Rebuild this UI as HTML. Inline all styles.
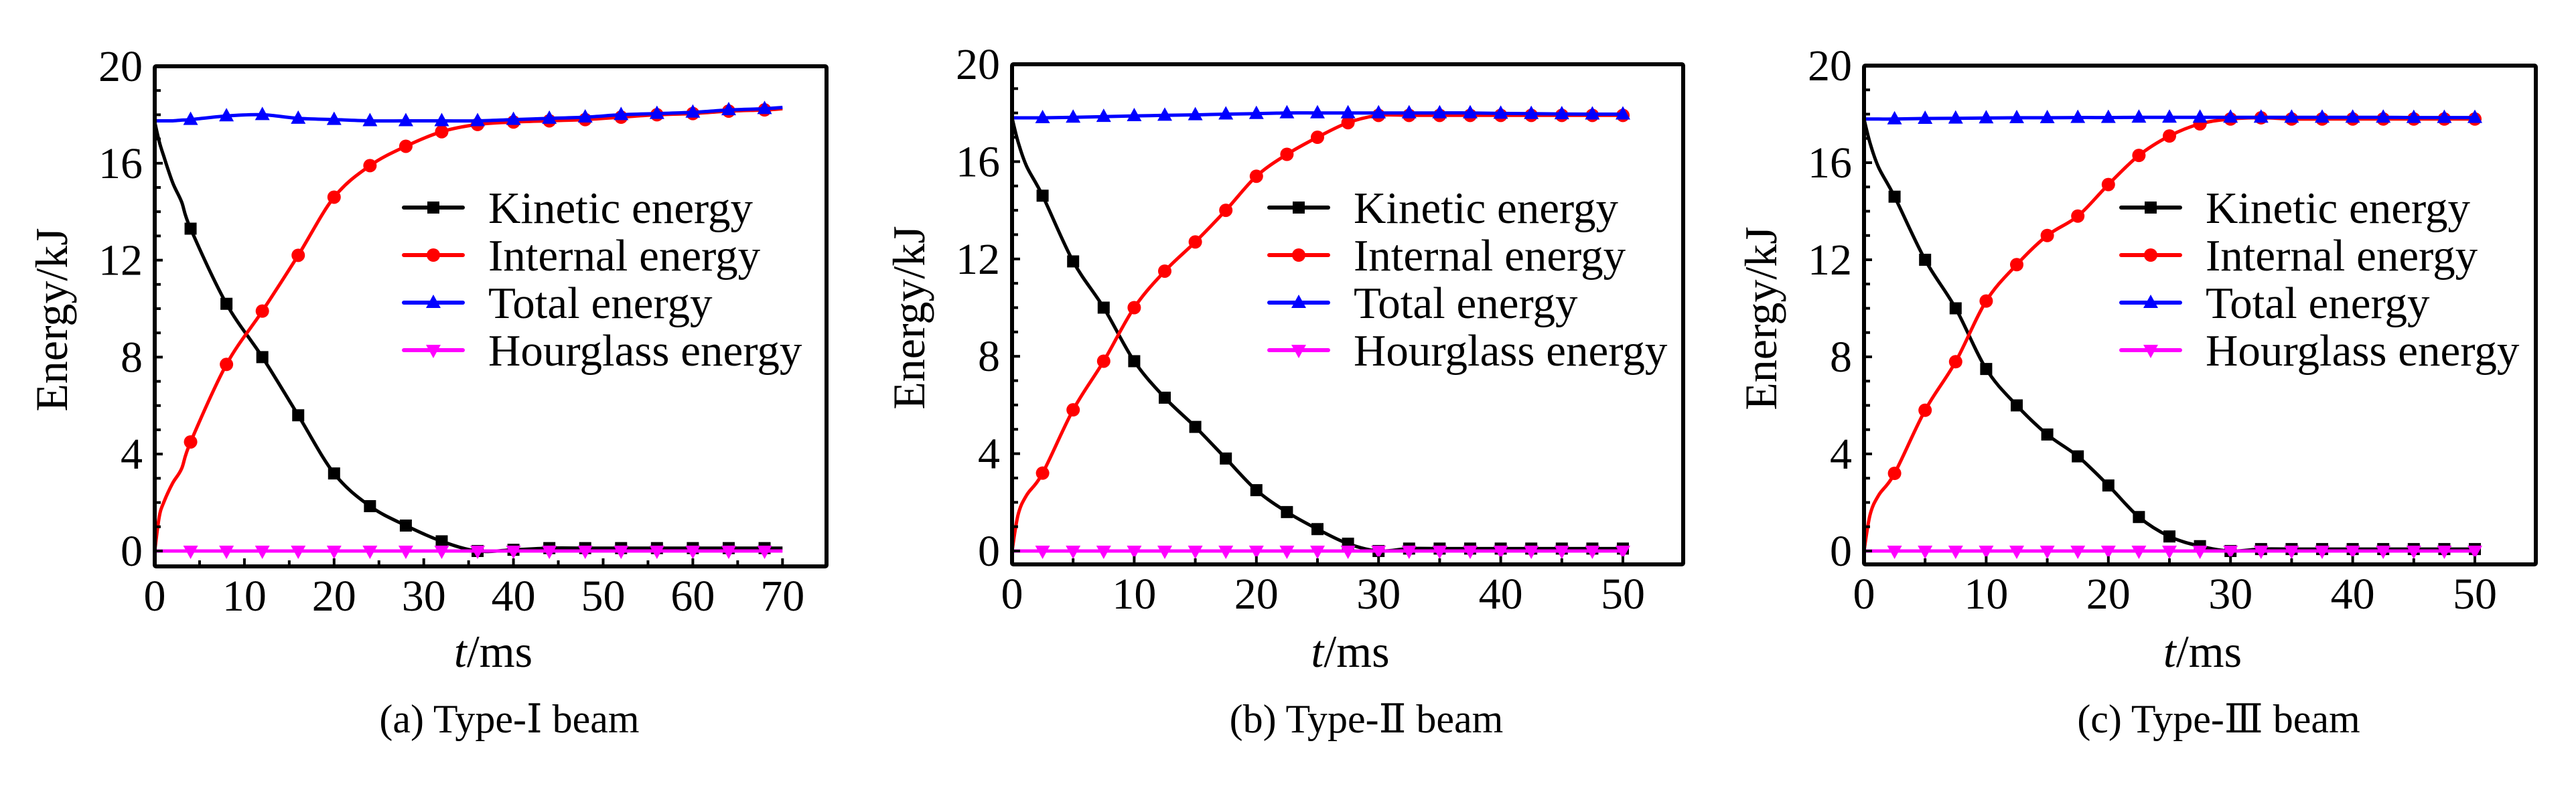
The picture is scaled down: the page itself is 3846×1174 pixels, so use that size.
<!DOCTYPE html>
<html><head><meta charset="utf-8"><style>
html,body{margin:0;padding:0;background:#fff;}
svg, svg text, svg tspan{font-family:"Liberation Serif","DejaVu Serif","Noto Serif CJK SC",serif;}
</style></head><body>
<svg id="fig" width="3846" height="1169" viewBox="0 0 3846 1169" xmlns="http://www.w3.org/2000/svg" font-family="Liberation Serif, DejaVu Serif, Noto Serif CJK SC, serif"></svg>
<script>
// Panel (a) data
const tA = [0,0.5,1,2,3,4,8,12,16,20,24,28,32,36,40,44,48,52,56,60,64,68,70];
const kinA = [17.7,16.9,16.3,15.2,14.4,13.3,10.2,8.0,5.6,3.2,1.85,1.05,0.4,0.0,0.05,0.12,0.12,0.12,0.12,0.12,0.12,0.12,0.12];
const intA = [0,1.4,2.0,2.8,3.4,4.5,7.7,9.9,12.2,14.6,15.9,16.7,17.3,17.6,17.7,17.75,17.8,17.9,18.0,18.05,18.15,18.2,18.25];
const totA = [17.75,17.75,17.75,17.75,17.78,17.8,17.95,18.0,17.85,17.8,17.75,17.75,17.75,17.75,17.8,17.85,17.9,18.0,18.05,18.1,18.2,18.25,18.3];
const hgA = [0,0,0,0,0,0,0,0,0,0,0,0,0,0,0,0,0,0,0,0,0,0,0];
// Panel (b) data
const tB = [0,0.5,1.2,2.5,5,7.5,10,12.5,15,17.5,20,22.5,25,27.5,30,32.5,35,37.5,40,42.5,45,47.5,50];
const kinB = [17.8,16.8,15.8,14.6,11.9,10.0,7.8,6.3,5.1,3.8,2.5,1.6,0.9,0.3,0.0,0.1,0.1,0.1,0.1,0.1,0.1,0.1,0.1];
const intB = [0,1.5,2.3,3.2,5.8,7.8,10.0,11.5,12.7,14.0,15.4,16.3,17.0,17.6,17.9,17.9,17.9,17.9,17.9,17.9,17.9,17.9,17.9];
const totB = [17.8,17.8,17.8,17.8,17.82,17.85,17.88,17.9,17.92,17.95,17.97,18.0,18.0,18.0,18.0,18.0,18.0,18.0,17.98,17.97,17.96,17.95,17.95];
const hgB = [0,0,0,0,0,0,0,0,0,0,0,0,0,0,0,0,0,0,0,0,0,0,0];
// Panel (c) data
const tC = [0,0.5,1.2,2.5,5,7.5,10,12.5,15,17.5,20,22.5,25,27.5,30,32.5,35,37.5,40,42.5,45,47.5,50];
const kinC = [17.8,16.8,15.8,14.6,12.0,10.0,7.5,6.0,4.8,3.9,2.7,1.4,0.6,0.2,0.0,0.08,0.08,0.08,0.08,0.08,0.08,0.08,0.08];
const intC = [0,1.5,2.3,3.2,5.8,7.8,10.3,11.8,13.0,13.8,15.1,16.3,17.1,17.6,17.8,17.85,17.8,17.8,17.8,17.8,17.8,17.8,17.8];
const totC = [17.8,17.8,17.8,17.8,17.82,17.83,17.84,17.85,17.85,17.86,17.86,17.87,17.87,17.87,17.87,17.87,17.87,17.87,17.87,17.87,17.86,17.86,17.86];
const hgC = [0,0,0,0,0,0,0,0,0,0,0,0,0,0,0,0,0,0,0,0,0,0,0];

const yTicks = [0,4,8,12,16,20];
const xTicksA = [0,10,20,30,40,50,60,70];
const xTicksBC = [0,10,20,30,40,50];
const seriesNames = ["Kinetic energy","Internal energy","Total energy","Hourglass energy"];
const captions = ["(a) Type-Ⅰ beam","(b) Type-Ⅱ beam","(c) Type-Ⅲ beam"];

const NS = "http://www.w3.org/2000/svg";
const FONT = "Liberation Serif, DejaVu Serif, Noto Serif CJK SC, serif";
const svg = document.getElementById("fig");
function mk(tag, attrs, parent){
  const e = document.createElementNS(NS, tag);
  for (const k in attrs) e.setAttribute(k, attrs[k]);
  if (tag==="text") e.setAttribute("font-family", FONT);
  (parent||svg).appendChild(e);
  return e;
}
const colors = ["#000000","#ff0000","#0000ff","#ff00ff"];
const keys = ["kinetic","internal","total","hourglass"];

function smoothPath(pts){
  let d = "M"+pts[0][0].toFixed(1)+","+pts[0][1].toFixed(1);
  for (let i=0;i<pts.length-1;i++){
    const p0 = pts[Math.max(0,i-1)], p1 = pts[i], p2 = pts[i+1], p3 = pts[Math.min(pts.length-1,i+2)];
    const c1x = p1[0]+(p2[0]-p0[0])/6, c1y = p1[1]+(p2[1]-p0[1])/6;
    const c2x = p2[0]-(p3[0]-p1[0])/6, c2y = p2[1]-(p3[1]-p1[1])/6;
    d += " C"+c1x.toFixed(1)+","+c1y.toFixed(1)+" "+c2x.toFixed(1)+","+c2y.toFixed(1)+" "+p2[0].toFixed(1)+","+p2[1].toFixed(1);
  }
  return d;
}
function marker(g, k, x, y){
  let m;
  if (k===0) m = mk("rect",{x:x-9,y:y-9,width:18,height:18,fill:colors[0]},g);
  else if (k===1) m = mk("circle",{cx:x,cy:y,r:10,fill:colors[1]},g);
  else if (k===2) m = mk("polygon",{points:(x)+","+(y-12)+" "+(x-11)+","+(y+8)+" "+(x+11)+","+(y+8),fill:colors[2]},g);
  else m = mk("polygon",{points:(x)+","+(y+12)+" "+(x-11)+","+(y-8)+" "+(x+11)+","+(y-8),fill:colors[3]},g);
  return m;
}

function panel(id, cfg){
  const {x0, xMax, pxPer, right, y0, y20, bottom, t, series, xTicks, markStep, legOff, caption} = cfg;
  const top = y20;
  const X = v => x0 + v*pxPer;
  const Y = v => y0 - v*(y0-y20)/20;
  const g = mk("g",{});
  
  
  series.forEach((vals, k)=>{
    const sg = mk("g",{},g);
    
    
    const pts = t.map((tt,i)=>[X(tt),Y(vals[i])]);
    const p = mk("path",{d:smoothPath(pts),fill:"none",stroke:colors[k],"stroke-width":5,"stroke-linejoin":"round"},sg);
    
    
    t.forEach((tt,i)=>{
      const r = tt/markStep;
      if (tt>0 && Math.abs(r-Math.round(r))<1e-6){
        const m = marker(sg,k,X(tt),Y(vals[i]));
        
        
      }
    });
  });
  const fr = mk("rect",{x:x0,y:top,width:right-x0,height:bottom-top,fill:"none",stroke:"#000","stroke-width":6,rx:2},g);
  
  
  for (let v=0; v<=20; v++){
    const tk = mk("line",{x1:x0,x2:x0+(v%4===0?12:9),y1:Y(v),y2:Y(v),stroke:"#000","stroke-width":4},g);
    
    
  }
  yTicks.forEach(v=>{
    const tx = mk("text",{x:x0-18,y:Y(v)+22,"font-size":66,"text-anchor":"end",fill:"#000"},g);
    tx.textContent = v;
    
    
  });
  for (let v=5; v<=xMax; v+=5){
    const tk = mk("line",{x1:X(v),x2:X(v),y1:bottom,y2:bottom-(v%10===0?12:9),stroke:"#000","stroke-width":4},g);
    
    
  }
  xTicks.forEach(v=>{
    const tx = mk("text",{x:X(v),y:bottom+66,"font-size":66,"text-anchor":"middle",fill:"#000"},g);
    tx.textContent = v;
    
    
  });
  const yt = mk("text",{x:0,y:0,"font-size":68,"text-anchor":"middle",transform:"translate("+(x0-131)+","+((top+bottom)/2+5)+") rotate(-90)",fill:"#000"},g);
  yt.textContent = "Energy/kJ";
  
  
  const xt = mk("text",{x:(x0+right)/2+4,y:996,"font-size":68,"text-anchor":"middle",fill:"#000"},g);
  const it = mk("tspan",{"font-style":"italic"},xt); it.textContent = "t";
  const rt = mk("tspan",{},xt); rt.textContent = "/ms";
  
  
  const lg = mk("g",{},g);
  
  
  seriesNames.forEach((nm,k)=>{
    const ly = 310 + k*71;
    const eg = mk("g",{},lg);
    
    
    mk("line",{x1:x0+legOff,x2:x0+legOff+88,y1:ly,y2:ly,stroke:colors[k],"stroke-width":6,"stroke-linecap":"round"},eg);
    marker(eg,k,x0+legOff+44,ly);
    const tx = mk("text",{x:x0+legOff+126,y:ly+23,"font-size":67,fill:"#000"},eg);
    tx.textContent = nm;
  });
  const cp = mk("text",{x:(x0+right)/2+28,y:1094,"font-size":60,"text-anchor":"middle",fill:"#000"},g);
  cp.textContent = caption;
  
  
}

panel("a",{x0:231,xMax:70,pxPer:13.39,right:1234,y0:823,y20:99,bottom:846,t:tA,series:[kinA,intA,totA,hgA],xTicks:xTicksA,markStep:4,legOff:372,caption:captions[0]});
panel("b",{x0:1511,xMax:50,pxPer:18.24,right:2513,y0:823,y20:96,bottom:843,t:tB,series:[kinB,intB,totB,hgB],xTicks:xTicksBC,markStep:2.5,legOff:384,caption:captions[1]});
panel("c",{x0:2783,xMax:50,pxPer:18.24,right:3786,y0:823,y20:98,bottom:843,t:tC,series:[kinC,intC,totC,hgC],xTicks:xTicksBC,markStep:2.5,legOff:384,caption:captions[2]});
</script>
</body></html>
